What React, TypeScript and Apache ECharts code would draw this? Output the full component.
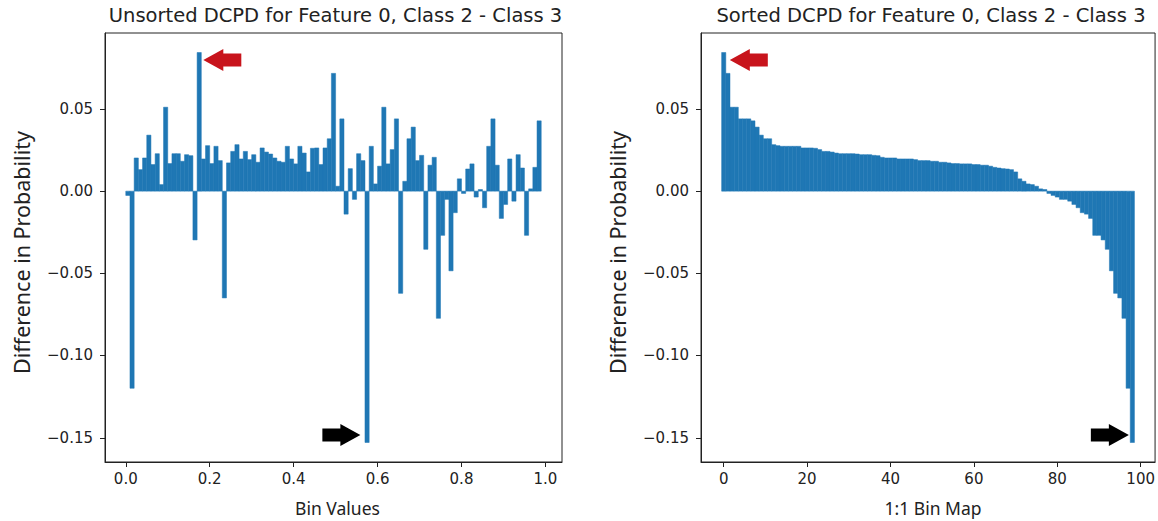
import React, { useEffect, useRef } from "react";
import * as echarts from "echarts";

// Per-bin difference in probability (class 2 minus class 3), bins of width 0.01 starting at 0.
const binWidth = 0.01;
const unsortedValues: number[] = [
  -0.0026, -0.12, 0.0202, 0.0131, 0.0202, 0.0341, 0.0162, 0.0228, 0.004, 0.0511,
  0.0168, 0.0228, 0.0228, 0.0182, 0.0222, 0.0216, -0.0297, 0.0844, 0.0196, 0.0277,
  0.0168, 0.0273, 0.0186, -0.065, 0.0172, 0.0242, 0.0283, 0.0196, 0.0242, 0.0192,
  0.0222, 0.0176, 0.0263, 0.0238, 0.0226, 0.0202, 0.0182, 0.0176, 0.0273, 0.0196,
  0.0166, 0.0273, 0.0232, 0.0117, 0.0261, 0.0263, 0.0162, 0.0263, 0.0319, 0.0717,
  0.003, 0.044, -0.014, 0.0137, -0.005, 0.0228, 0.0186, -0.153, 0.0273, 0.0044,
  0.0152, 0.0511, 0.0166, 0.0253, 0.044, -0.0622, 0.006, 0.0319, 0.039, 0.0186,
  0.0218, -0.0354, 0.0158, 0.0206, -0.0774, -0.0269, -0.005, -0.0485, -0.0131, 0.0075,
  -0.0014, 0.0135, 0.0166, -0.0036, 0.001, -0.0101, 0.0273, 0.044, 0.0158, -0.0166,
  -0.0081, 0.0196, -0.0061, 0.0222, 0.0141, -0.0269, 0.0014, 0.0145, 0.0428,
];
// The same bins ordered from the largest to the smallest difference.
const sortedValues: number[] = [...unsortedValues].sort((a, b) => b - a);

const leftXTicks = [0, 0.2, 0.4, 0.6, 0.8, 1.0];
const rightXTicks = [0, 20, 40, 60, 80, 100];
const yTicks = [-0.15, -0.1, -0.05, 0, 0.05];

const titles = [
  "Unsorted DCPD for Feature 0, Class 2 - Class 3",
  "Sorted DCPD for Feature 0, Class 2 - Class 3",
];
const xNames = ["Bin Values", "1:1 Bin Map"];
const yName = "Difference in Probability";

const BAR = "#1f77b4";
const INK = "#222222";
const RED = "#c8141c";
const TICK_FONT = "DejaVu Sans";
const LABEL_FONT = "Noto Sans";
const TICK_LEN = 5;

const GRIDS = [
  { left: 105, top: 33, width: 457, height: 429 },
  { left: 701, top: 33, width: 456, height: 429 },
];

// matplotlib-style 5% padding around the data range
const pad = (lo: number, hi: number): [number, number] => {
  const m = (hi - lo) * 0.05;
  return [lo - m, hi + m];
};

const yMin = Math.min(...unsortedValues);
const yMax = Math.max(...unsortedValues);
const [yLo, yHi] = pad(yMin, yMax);
const [lxLo, lxHi] = pad(0, unsortedValues.length * binWidth);
const [rxLo, rxHi] = pad(-0.5, sortedValues.length - 0.5);

const leftData = unsortedValues.map((v, i) => [i * binWidth, (i + 1) * binWidth, v]);
const rightData = sortedValues.map((v, i) => [i - 0.5, i + 0.5, v]);

const fmtY = (v: number) => (v < -1e-9 ? "\u2212" : "") + Math.abs(v).toFixed(2);

const axisLine = { show: true, onZero: false, lineStyle: { color: INK, width: 1 } };

function xAxisFor(gridIndex: number, lo: number, hi: number, ticks: number[], fmt: (v: number) => string) {
  return {
    type: "value",
    gridIndex,
    min: lo,
    max: hi,
    position: "bottom",
    splitLine: { show: false },
    axisLine,
    axisTick: { show: true, customValues: ticks, length: TICK_LEN, lineStyle: { color: INK, width: 1 } },
    axisLabel: {
      customValues: ticks,
      formatter: fmt,
      fontFamily: TICK_FONT,
      fontSize: 15,
      color: INK,
      margin: 9,
    },
  };
}

// y tick marks are drawn as graphic lines at the axis' own pixel positions
function yAxisFor(gridIndex: number) {
  return {
    type: "value",
    gridIndex,
    min: yLo,
    max: yHi,
    position: "left",
    splitLine: { show: false },
    axisLine,
    axisTick: { show: false },
    axisLabel: {
      customValues: yTicks,
      formatter: fmtY,
      fontFamily: TICK_FONT,
      fontSize: 15,
      color: INK,
      margin: 12,
    },
  };
}

function barSeries(index: number, data: number[][]) {
  return {
    type: "custom",
    xAxisIndex: index,
    yAxisIndex: index,
    data,
    encode: { x: [0, 1], y: 2 },
    renderItem: (_params: any, api: any) => {
      const x0 = api.value(0);
      const x1 = api.value(1);
      const v = api.value(2);
      const a = api.coord([x0, 0]);
      const b = api.coord([x1, v]);
      return {
        type: "rect",
        shape: {
          x: a[0],
          y: Math.min(a[1], b[1]),
          width: b[0] - a[0],
          height: Math.abs(b[1] - a[1]),
        },
        style: { fill: BAR, stroke: BAR, lineWidth: 0.5 },
      };
    },
  };
}

// Block arrow with its tip at (tx, ty); dir = -1 points left, +1 points right.
function arrow(tx: number, ty: number, dir: number, color: string) {
  const head = 20;
  const len = 38;
  const hh = 11;
  const bh = 6.5;
  const s = -dir;
  return {
    type: "polygon",
    shape: {
      points: [
        [tx, ty],
        [tx + s * head, ty - hh],
        [tx + s * head, ty - bh],
        [tx + s * len, ty - bh],
        [tx + s * len, ty + bh],
        [tx + s * head, ty + bh],
        [tx + s * head, ty + hh],
      ],
    },
    style: { fill: color },
    z: 10,
  };
}

export default function App() {
  const ref = useRef<HTMLDivElement>(null);

  useEffect(() => {
    if (!ref.current) return;
    const chart = echarts.init(ref.current, undefined, { renderer: "svg" });

    chart.setOption({
      animation: false,
      grid: GRIDS.map((g) => ({
        ...g,
        show: true,
        borderColor: INK,
        borderWidth: 1,
        backgroundColor: "transparent",
      })),
      xAxis: [
        xAxisFor(0, lxLo, lxHi, leftXTicks, (v) => v.toFixed(1)),
        xAxisFor(1, rxLo, rxHi, rightXTicks, (v) => String(Math.round(v))),
      ],
      yAxis: [yAxisFor(0), yAxisFor(1)],
      series: [barSeries(0, leftData), barSeries(1, rightData)],
    });

    // Arrows point at the largest and smallest bins in each panel.
    const maxIdx = unsortedValues.indexOf(yMax);
    const minIdx = unsortedValues.indexOf(yMin);
    const lMax = chart.convertToPixel({ gridIndex: 0 }, [(maxIdx + 1) * binWidth, yMax]) as number[];
    const lMin = chart.convertToPixel({ gridIndex: 0 }, [minIdx * binWidth, yMin]) as number[];
    const rMax = chart.convertToPixel({ gridIndex: 1 }, [0.5, yMax]) as number[];
    const rMin = chart.convertToPixel({ gridIndex: 1 }, [sortedValues.length - 1.5, yMin]) as number[];

    const els: any[] = [];
    GRIDS.forEach((g, i) => {
      const cx = g.left + g.width / 2;
      const cy = g.top + g.height / 2;
      yTicks.forEach((t) => {
        const py = Math.round(chart.convertToPixel({ yAxisIndex: i }, t) as number) + 0.5;
        els.push({
          type: "line",
          shape: { x1: g.left - TICK_LEN, y1: py, x2: g.left, y2: py },
          style: { stroke: INK, lineWidth: 1 },
        });
      });
      els.push({
        type: "text",
        x: cx + 2,
        y: 15,
        style: {
          text: titles[i],
          fill: INK,
          font: `19.5px "${TICK_FONT}"`,
          align: "center",
          verticalAlign: "middle",
        },
      });
      els.push({
        type: "text",
        x: cx + 4,
        y: 508,
        style: {
          text: xNames[i],
          fill: INK,
          font: `17.5px "${LABEL_FONT}"`,
          align: "center",
          verticalAlign: "middle",
        },
      });
      els.push({
        type: "text",
        x: g.left - 84,
        y: cy + 5,
        rotation: Math.PI / 2,
        style: {
          text: yName,
          fill: INK,
          font: `21.5px "${LABEL_FONT}"`,
          align: "center",
          verticalAlign: "middle",
        },
      });
    });

    chart.setOption({
      graphic: [
        ...els,
        arrow(lMax[0] + 2, lMax[1] + 7.6, -1, RED),
        arrow(rMax[0] + 4, rMax[1] + 7.6, -1, RED),
        arrow(lMin[0] - 4.6, lMin[1] - 7.4, 1, "#000000"),
        arrow(rMin[0] - 1.4, rMin[1] - 7.4, 1, "#000000"),
      ],
    });

    return () => chart.dispose();
  }, []);

  return (
    <div
      ref={ref}
      style={{ position: "absolute", left: 0, top: 0, width: 1158, height: 521, background: "#ffffff" }}
    />
  );
}
